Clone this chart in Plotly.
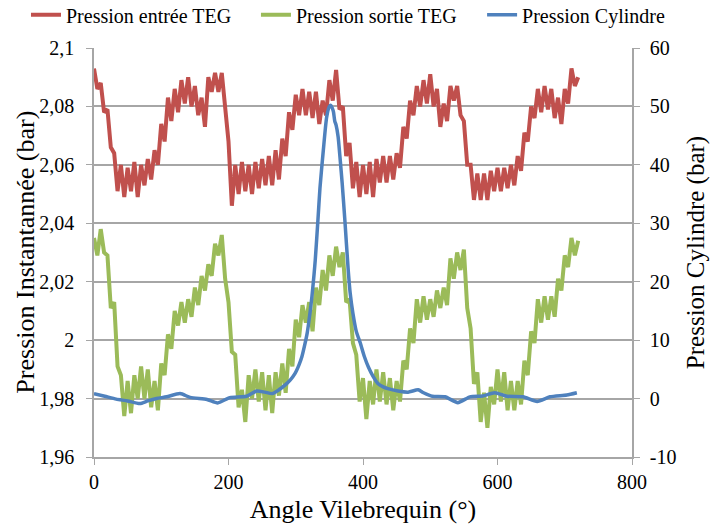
import plotly.graph_objects as go

# Crank angle grid for the two TEG pressure traces (deg)
angle = list(range(0, 721, 5))

# Pression entrée TEG (bar), alternating band edges
p_entree = [
    2.093, 2.086, 2.088, 2.078, 2.079, 2.066, 2.064, 2.051, 2.060, 2.049,
    2.059, 2.051, 2.061, 2.049, 2.060, 2.053, 2.062, 2.055, 2.065, 2.060,
    2.074, 2.068, 2.083, 2.075, 2.086, 2.078, 2.089, 2.081, 2.090, 2.080,
    2.087, 2.077, 2.083, 2.073, 2.090, 2.085, 2.0915, 2.085, 2.0915, 2.079,
    2.068, 2.046, 2.060, 2.050, 2.061, 2.051, 2.060, 2.050, 2.061, 2.052,
    2.062, 2.053, 2.063, 2.053, 2.065, 2.055, 2.069, 2.063, 2.078, 2.072,
    2.084, 2.077, 2.086, 2.077, 2.085, 2.076, 2.085, 2.074, 2.082, 2.077,
    2.089, 2.082, 2.0925, 2.079, 2.080, 2.063, 2.0675, 2.052, 2.061, 2.049,
    2.060, 2.050, 2.061, 2.049, 2.062, 2.054, 2.063, 2.054, 2.063, 2.055,
    2.064, 2.059, 2.073, 2.069, 2.082, 2.077, 2.087, 2.080, 2.089, 2.081,
    2.091, 2.080, 2.086, 2.073, 2.081, 2.075, 2.087, 2.082, 2.087, 2.077,
    2.075, 2.060, 2.060, 2.048, 2.057, 2.048, 2.057, 2.048, 2.058, 2.051,
    2.059, 2.051, 2.059, 2.052, 2.060, 2.053, 2.063, 2.058, 2.071, 2.068,
    2.080, 2.076, 2.086, 2.078, 2.087, 2.079, 2.086, 2.076, 2.083, 2.074,
    2.086, 2.081, 2.093, 2.087, 2.090,
]

# Pression sortie TEG (bar)
p_sortie = [
    2.035, 2.029, 2.038, 2.030, 2.029, 2.011, 2.013, 1.991, 1.988, 1.974,
    1.986, 1.975, 1.988, 1.980, 1.991, 1.980, 1.990, 1.977, 1.986, 1.976,
    1.992, 1.988, 2.002, 1.997, 2.010, 2.005, 2.013, 2.006, 2.014, 2.008,
    2.018, 2.012, 2.022, 2.017, 2.026, 2.022, 2.033, 2.029, 2.036, 2.021,
    2.013, 1.996, 1.995, 1.977, 1.983, 1.972, 1.988, 1.980, 1.990, 1.979,
    1.989, 1.976, 1.988, 1.975, 1.989, 1.981, 1.992, 1.982, 1.997, 1.991,
    2.007, 2.001, 2.012, 2.006, 2.013, 2.003, 2.018, 2.012, 2.024, 2.017,
    2.029, 2.022, 2.032, 2.025, 2.030, 2.013, 2.014, 1.999, 1.995, 1.979,
    1.987, 1.973, 1.986, 1.978, 1.990, 1.979, 1.989, 1.978, 1.987, 1.976,
    1.986, 1.979, 1.993, 1.990, 2.004, 1.999, 2.014, 2.006, 2.015, 2.007,
    2.014, 2.008, 2.017, 2.011, 2.018, 2.012, 2.028, 2.021, 2.030, 2.024,
    2.031, 2.011, 2.004, 1.985, 1.989, 1.972, 1.982, 1.970, 1.984, 1.978,
    1.990, 1.979, 1.989, 1.976, 1.986, 1.976, 1.986, 1.978, 1.993, 1.988,
    2.003, 1.999, 2.014, 2.006, 2.015, 2.007, 2.015, 2.008, 2.021, 2.017,
    2.029, 2.025, 2.035, 2.029, 2.034,
]

# Pression Cylindre (bar), right axis
cyl_angle = [0, 16, 33, 50, 68, 80, 93, 108, 128, 143, 168, 184, 202, 227, 242,
             254, 265, 275, 284, 292, 299, 305, 309, 313, 317, 321, 324, 327, 329,
             333, 336, 341, 346, 350, 352, 354, 356, 358, 360, 363, 366, 369, 373,
             378, 381, 385, 390, 396, 402, 408, 415, 422, 430, 437, 452, 467, 482,
             490, 503, 522, 541, 559, 578, 596, 614, 638, 659, 678, 703, 718]
p_cyl = [0.85, 0.4, -0.1, -0.4, -0.85, -0.4, 0.0, 0.3, 0.85, 0.2, -0.17, -0.74, 0.17, 0.4, 1.3,
         1.1, 0.85, 1.5, 2.3, 3.2, 4.3, 5.8, 7.1, 9.0, 11.2, 14.5, 17.4, 21.0, 23.7,
         30.6, 36.0, 42.5, 48.2, 50.0, 50.2, 49.8, 49.1, 47.5, 46.8, 44.8, 41.0, 36.9, 30.6,
         22.0, 18.0, 14.6, 11.5, 9.5, 7.2, 5.4, 3.8, 2.6, 2.0, 1.7, 1.3, 1.1, 1.5,
         1.0, 0.4, 0.3, -0.7, 0.3, 0.45, 1.0, 0.4, 0.3, -0.5, 0.3, 0.6, 1.0]

left_ticks = [1.96, 1.98, 2.0, 2.02, 2.04, 2.06, 2.08, 2.1]
right_ticks = [-10, 0, 10, 20, 30, 40, 50, 60]
right_labels = ['-10', '0', '10', '20', '30', '40', '50', '60']

font_name = 'Liberation Serif'
grid_col = '#A6A6A6'

fig = go.Figure()
fig.add_trace(go.Scatter(x=angle, y=p_entree, mode='lines', name='Pression entrée TEG',
                         line=dict(color='#C0504D', width=4), legend='legend'))
fig.add_trace(go.Scatter(x=angle, y=p_sortie, mode='lines', name='Pression sortie TEG',
                         line=dict(color='#9BBB59', width=4), legend='legend2'))
fig.add_trace(go.Scatter(x=cyl_angle, y=p_cyl, mode='lines', name='Pression Cylindre',
                         line=dict(color='#4F81BD', width=3.5, shape='spline', smoothing=0.6),
                         yaxis='y2', legend='legend3'))

# legends placed in container coordinates so they do not push the plot area
leg_common = dict(orientation='h', xref='container', yref='container',
                  y=0.972, yanchor='middle', xanchor='left',
                  font=dict(size=20), bgcolor='rgba(0,0,0,0)', itemwidth=30)

fig.update_layout(
    width=710, height=528,
    margin=dict(l=94, r=78, t=48, b=71, autoexpand=False),
    paper_bgcolor='white', plot_bgcolor='white',
    separators=', ',
    font=dict(family=font_name, size=20, color='black'),
    showlegend=True,
    legend=dict(x=0.0366, **leg_common),
    legend2=dict(x=0.3605, **leg_common),
    legend3=dict(x=0.679, **leg_common),
    xaxis=dict(range=[0, 800], tick0=0, dtick=200, showgrid=False, zeroline=False,
               showline=True, linecolor=grid_col, linewidth=1.5, automargin=False,
               ticks='outside', ticklen=6, tickcolor=grid_col, ticklabelstandoff=0,
               title=dict(text='Angle Vilebrequin (°)', font=dict(size=26), standoff=8)),
    yaxis=dict(range=[1.96, 2.1], tickvals=left_ticks, showgrid=True, gridcolor=grid_col,
               gridwidth=1.5, zeroline=False, showline=True, linecolor=grid_col, linewidth=1.5,
               ticks='outside', ticklen=6, tickcolor=grid_col, automargin=False,
               ticklabelstandoff=8),
    yaxis2=dict(range=[-10, 60], tickvals=right_ticks, ticktext=right_labels,
                overlaying='y', side='right', automargin=False, ticklabelstandoff=6,
                showgrid=False, zeroline=False, showline=True, linecolor=grid_col, linewidth=1.5,
                ticks='outside', ticklen=6, tickcolor=grid_col,
                title=dict(text='Pression Cylindre (bar)', font=dict(size=25), standoff=12)),
)

# left axis title as an annotation for exact placement
fig.add_annotation(text='Pression Instantannée (bar)', xref='paper', yref='paper',
                   x=-0.128, y=0.5, xanchor='center', yanchor='middle', textangle=-90,
                   showarrow=False, font=dict(size=26))

# drop the default page margin so the figure sits at the window origin
fig.write_html('out.html', config={'displayModeBar': False},
               post_script="document.body.style.margin='0';")
